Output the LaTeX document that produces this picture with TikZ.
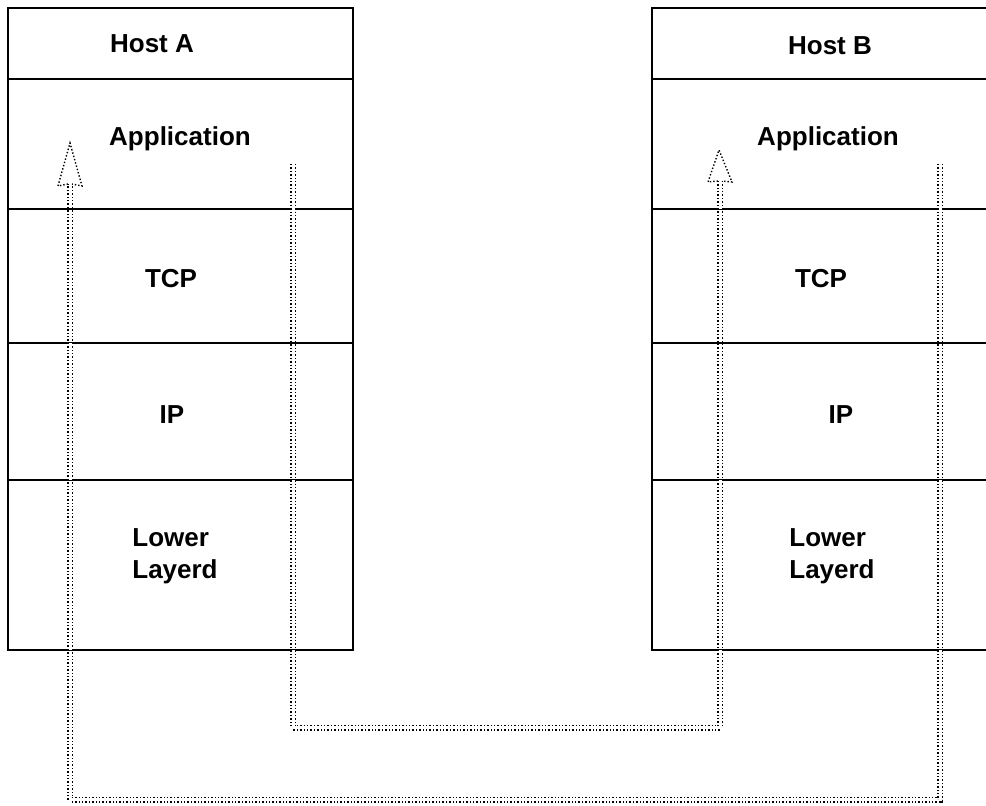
\documentclass[tikz,border=0pt]{standalone}
\usepackage{fontspec}
\setmainfont{Liberation Sans}
\usetikzlibrary{positioning,calc}

\begin{document}
\begin{tikzpicture}[
    x=0.5pt, y=-0.5pt,
    node distance=0pt,
    layer/.style={rectangle, draw, line width=1.4pt, minimum width=172.5pt, inner sep=0pt, outer sep=0pt},
    layername/.style={font=\fontsize{13}{16}\selectfont\bfseries, inner sep=0pt, align=left},
    flow/.style={line width=0.7pt, densely dotted, double, double distance=1.5pt},
    head/.style={line width=0.7pt, densely dotted}
]
    \clip (0,0) rectangle (986,806);

    % host A stack
    \node[layer, minimum height=35.5pt] at (180.5,43.5) (hostA) {};
    \node[layer, minimum height=65pt, below=of hostA] (appA) {};
    \node[layer, minimum height=67pt, below=of appA] (tcpA) {};
    \node[layer, minimum height=68.5pt, below=of tcpA] (ipA) {};
    \node[layer, minimum height=85pt, below=of ipA] (lowA) {};

    % host B stack
    \node[layer, minimum height=35.5pt] at (824.5,43.5) (hostB) {};
    \node[layer, minimum height=65pt, below=of hostB] (appB) {};
    \node[layer, minimum height=67pt, below=of appB] (tcpB) {};
    \node[layer, minimum height=68.5pt, below=of tcpB] (ipB) {};
    \node[layer, minimum height=85pt, below=of ipB] (lowB) {};

    % labels
    \node[layername] at (152,44) (nameHostA) {Host A};
    \node[layername] at (180,139) (nameAppA) {Application};
    \node[layername] at (171,279) (nameTcpA) {TCP};
    \node[layername] at (172,415) (nameIpA) {IP};
    \node[layername] at (175,556) (nameLowA) {Lower\\Layerd};

    \node[layername] at (830,46) (nameHostB) {Host B};
    \node[layername] at (828,139) (nameAppB) {Application};
    \node[layername] at (821,279) (nameTcpB) {TCP};
    \node[layername] at (841,415) (nameIpB) {IP};
    \node[layername] at (832,556) (nameLowB) {Lower\\Layerd};

    % A to B
    \coordinate (sendA) at (293,164);
    \coordinate (downA) at (293,728);
    \coordinate (overB) at (720,728);
    \coordinate (baseB) at (720,181);
    \coordinate (tipB) at (719,150);
    \draw[flow] (sendA) -- (downA) -- (overB) -- (baseB);
    \draw[head] ($(baseB)+(-2,0)$) -- ($(baseB)+(-12,1)$) -- (tipB)
        -- ($(baseB)+(12,1)$) -- ($(baseB)+(2,0)$);

    % B to A
    \coordinate (sendB) at (940,164);
    \coordinate (downB) at (940,800);
    \coordinate (overA) at (70,800);
    \coordinate (baseA) at (70,184);
    \coordinate (tipA) at (70,143);
    \draw[flow] (sendB) -- (downB) -- (overA) -- (baseA);
    \draw[head] ($(baseA)+(-2,0)$) -- ($(baseA)+(-12,2)$) -- (tipA)
        -- ($(baseA)+(12,2)$) -- ($(baseA)+(2,0)$);
\end{tikzpicture}
\end{document}
